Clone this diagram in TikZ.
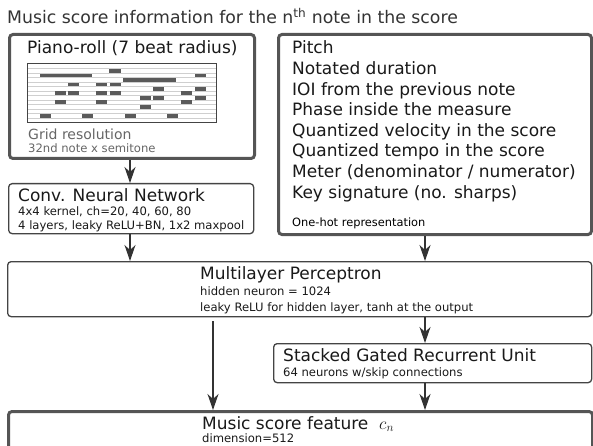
\documentclass[tikz,border=0pt]{standalone}
\usepackage{fontspec}
\setmainfont{DejaVu Sans}
\usetikzlibrary{arrows.meta}
\definecolor{boxgray}{HTML}{555555}
\definecolor{thingray}{HTML}{444444}
\definecolor{notegray}{HTML}{5A5A5A}
\definecolor{gridgray}{HTML}{CFCFCF}
\definecolor{subgray}{HTML}{666666}
\definecolor{titlegray}{HTML}{333333}
\tikzset{
  thickbox/.style={draw=boxgray,line width=3pt,rounded corners=3.5pt,anchor=north west,inner sep=0pt,fill=white},
  thinbox/.style={draw=thingray,line width=1.3pt,rounded corners=3.5pt,anchor=north west,inner sep=0pt,fill=white},
  bigtxt/.style={anchor=base west,inner sep=0pt,font=\fontsize{17}{20}\selectfont,text=black!90},
  smalltxt/.style={anchor=base west,inner sep=0pt,font=\fontsize{11.6}{13}\selectfont,text=black!90},
  arr/.style={draw=titlegray,line width=1.2pt,-{Stealth[length=16pt,width=11pt,inset=5pt]}},
  noteblk/.style={fill=notegray,draw=none},
}
\newcommand{\pnote}[3]{\fill[noteblk] (#2,{71+4.47*(#1-1)-1.9}) rectangle (#3,{71+4.47*(#1-1)+1.9});}
\begin{document}
\begin{tikzpicture}[x=1pt,y=-1pt]
\useasboundingbox (0,0) rectangle (593,446);

% title
\node[anchor=base west,inner sep=0pt,font=\fontsize{17.3}{20}\selectfont,text=titlegray] (title) at (7,23.5) {Music score information for the n\textsuperscript{th} note in the score};

% boxes
\node[thickbox,minimum width=245pt,minimum height=124pt] (piano) at (8,33) {};
\node[thickbox,minimum width=313pt,minimum height=200pt] (pitch) at (277,33) {};
\node[thinbox,minimum width=245pt,minimum height=50pt] (conv) at (8,183) {};
\node[thinbox,minimum width=584pt,minimum height=55pt] (mlp) at (7,261) {};
\node[thinbox,minimum width=318pt,minimum height=39pt] (gru) at (273,343) {};
\node[thickbox,minimum width=584pt,minimum height=50pt] (feat) at (7,410) {};

% piano roll
\foreach \j in {0,...,11} {\draw[gridgray,line width=0.7pt] (27.3,{68.8+4.47*\j}) -- (215.7,{68.8+4.47*\j});}
\pnote{1}{109.3}{120.7}
\pnote{2}{40}{92.3}\pnote{2}{194.7}{205.7}
\pnote{3}{123.3}{175.7}
\pnote{4}{68.3}{79.3}\pnote{4}{96}{107.3}\pnote{4}{110}{120.7}
\pnote{5}{153.3}{164.3}\pnote{5}{194.7}{205.7}
\pnote{6}{55}{66}\pnote{6}{68.3}{79.3}\pnote{6}{96}{107.3}\pnote{6}{110}{120.7}\pnote{6}{181.3}{192.3}
\pnote{7}{140}{151}\pnote{7}{153.3}{164.3}\pnote{7}{194.7}{205.7}
\pnote{8}{55}{66}\pnote{8}{96}{107.3}\pnote{8}{181.3}{192.3}
\pnote{9}{140}{151}
\pnote{11}{40}{51}\pnote{11}{81.7}{92.7}\pnote{11}{125}{136}\pnote{11}{166.7}{177.7}
\node[draw=thingray,line width=1pt,minimum width=188.4pt,minimum height=58.7pt,anchor=north west,inner sep=0pt] (roll) at (27.3,63.3) {};

% piano texts
\node[bigtxt] (pianot) at (27,53.5) {Piano-roll (7 beat radius)};
\node[anchor=base west,inner sep=0pt,font=\fontsize{14}{16}\selectfont,text=subgray] (gridres) at (28,140) {Grid resolution};
\node[anchor=base west,inner sep=0pt,font=\fontsize{11.6}{13}\selectfont,text=subgray] (gridsub) at (28,153) {32nd note x semitone};

% pitch texts
\foreach \t [count=\i from 0] in {Pitch,Notated duration,IOI from the previous note,Phase inside the measure,Quantized velocity in the score,Quantized tempo in the score,Meter (denominator / numerator),Key signature (no. sharps)} {
  \node[bigtxt] (feat\i) at (292,{54+20.6*\i}) {\t};
}
\node[anchor=base west,inner sep=0pt,font=\fontsize{11.4}{13}\selectfont] (onehot) at (292,226.5) {One-hot representation};

% conv texts
\node[bigtxt] (convt) at (18,201) {Conv. Neural Network};
\node[smalltxt] (conva) at (18,215) {4x4 kernel, ch=20, 40, 60, 80};
\node[smalltxt] (convb) at (18,229) {4 layers, leaky ReLU+BN, 1x2 maxpool};

% mlp texts
\node[bigtxt] (mlpt) at (200,279) {Multilayer Perceptron};
\node[smalltxt] (mlpa) at (200,295) {hidden neuron = 1024};
\node[smalltxt] (mlpb) at (200,311) {leaky ReLU for hidden layer, tanh at the output};

% gru texts
\node[bigtxt] (grut) at (283,361) {Stacked Gated Recurrent Unit};
\node[smalltxt] (grua) at (283,376) {64 neurons w/skip connections};

% feature texts
\node[bigtxt] (featt) at (202,429) {Music score feature \ $\mathbf{}c_n$};
\node[smalltxt] (feata) at (202,442) {dimension=512};

% connectors
\coordinate (colL) at (130,0);
\coordinate (colM) at (213,0);
\coordinate (colR) at (425,0);
\draw[arr] (piano.south -| colL) -- (conv.north -| colL);
\draw[arr] (conv.south -| colL) -- (mlp.north -| colL);
\draw[arr] (pitch.south -| colR) -- (mlp.north -| colR);
\draw[arr,shorten <=4pt] (mlp.south -| colM) -- (feat.north -| colM);
\draw[arr] (mlp.south -| colR) -- (gru.north -| colR);
\draw[arr] (gru.south -| colR) -- (feat.north -| colR);
\end{tikzpicture}
\end{document}
